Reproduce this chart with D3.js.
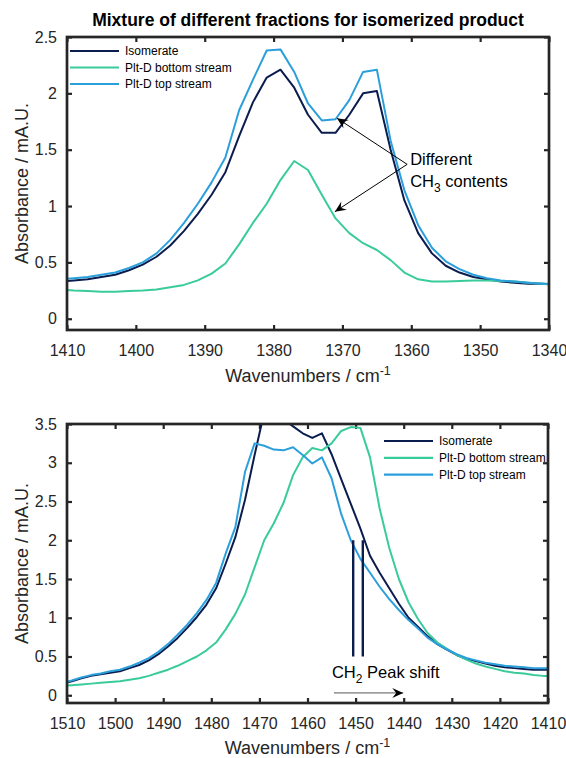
<!DOCTYPE html>
<html><head><meta charset="utf-8">
<script src="https://cdn.jsdelivr.net/npm/d3@7"></script>
<style>body{margin:0;background:#fff}svg{display:block}text{font-family:"Liberation Sans",Arial,sans-serif}</style>
</head><body>
<script>
// ---------- data: top panel (CH3 region) ----------
const topWavenumbers = [1411,1409,1407,1405,1403,1401,1399,1397,1395,1393,1391,1389,1387,1385,1383,1381,1379,1377,1375,1373,1371,1369,1367,1365,1363,1361,1359,1357,1355,1353,1351,1349,1347,1345,1343,1341,1339];
const topIsomerate = [0.33,0.34,0.35,0.37,0.39,0.43,0.48,0.55,0.65,0.78,0.93,1.10,1.30,1.62,1.92,2.14,2.21,2.05,1.81,1.65,1.65,1.81,2.00,2.02,1.50,1.05,0.76,0.58,0.47,0.41,0.37,0.35,0.33,0.32,0.31,0.31,0.30];
const topBottomStream = [0.26,0.25,0.245,0.24,0.24,0.245,0.25,0.26,0.28,0.30,0.34,0.40,0.49,0.66,0.85,1.02,1.23,1.40,1.32,1.10,0.89,0.76,0.67,0.61,0.52,0.41,0.35,0.33,0.33,0.335,0.34,0.34,0.335,0.33,0.32,0.31,0.30];
const topTopStream = [0.35,0.36,0.37,0.39,0.41,0.45,0.50,0.58,0.70,0.85,1.02,1.21,1.43,1.85,2.12,2.38,2.39,2.19,1.91,1.76,1.77,1.94,2.19,2.21,1.58,1.14,0.83,0.63,0.51,0.44,0.39,0.36,0.34,0.33,0.32,0.31,0.31];
const topXTicks = [1410,1400,1390,1380,1370,1360,1350,1340];
const topYTicks = [0,0.5,1,1.5,2,2.5];

// ---------- data: bottom panel (CH2 region) ----------
const botWavenumbers = [1511,1509,1507,1505,1503,1501,1499,1497,1495,1493,1491,1489,1487,1485,1483,1481,1479,1477,1475,1473,1471,1469,1467,1465,1463,1461,1459,1457,1455,1453,1451,1449,1447,1445,1443,1441,1439,1437,1435,1433,1431,1429,1427,1425,1423,1421,1419,1417,1415,1413,1411,1409];
const botIsomerate = [0.15,0.18,0.22,0.25,0.27,0.29,0.31,0.35,0.39,0.45,0.53,0.63,0.74,0.87,1.01,1.17,1.38,1.70,2.04,2.52,3.10,3.65,3.68,3.56,3.47,3.38,3.32,3.38,3.11,2.79,2.47,2.15,1.80,1.58,1.38,1.18,1.00,0.88,0.76,0.66,0.59,0.52,0.47,0.44,0.41,0.38,0.36,0.35,0.34,0.33,0.33,0.33];
const botBottomStream = [0.12,0.13,0.14,0.15,0.16,0.17,0.18,0.20,0.22,0.25,0.29,0.33,0.38,0.44,0.50,0.58,0.68,0.85,1.05,1.30,1.65,2.00,2.22,2.48,2.84,3.07,3.19,3.16,3.25,3.41,3.46,3.45,3.07,2.41,1.90,1.50,1.20,0.98,0.80,0.68,0.60,0.52,0.46,0.41,0.37,0.34,0.31,0.29,0.28,0.26,0.25,0.25];
const botTopStream = [0.16,0.19,0.23,0.26,0.28,0.31,0.33,0.37,0.42,0.48,0.56,0.66,0.78,0.91,1.06,1.23,1.45,1.83,2.17,2.88,3.25,3.22,3.17,3.16,3.20,3.10,2.99,3.07,2.80,2.34,2.00,1.76,1.58,1.40,1.24,1.10,0.97,0.86,0.74,0.66,0.59,0.53,0.48,0.45,0.42,0.40,0.38,0.37,0.36,0.35,0.35,0.35];
const botXTicks = [1510,1500,1490,1480,1470,1460,1450,1440,1430,1420,1410];
const botYTicks = [0,0.5,1,1.5,2,2.5,3,3.5];

const seriesNames = ["Isomerate","Plt-D bottom stream","Plt-D top stream"];
const seriesColors = ["#0b1c4e","#3acb9c","#2b9fdc"];

// annotations (data coordinates)
const ch3Tail = [1360.6, 1.37];
const ch3Tips = [[1370.8, 1.78],[1371.1, 0.95]];
const ch2Markers = [1450.5, 1448.5];
const ch2MarkerRange = [0.5, 2.0];
const ch2Arrow = [[1454.5, 0.03],[1440.1, 0.03]];

const W = 566, H = 758;
const svg = d3.select("body").append("svg").attr("width", W).attr("height", H);
const axisColor = "#262626";

function panel(opts){
  const {left,right,top,bottom,xDomain,yDomain,xTicks,yTicks,id} = opts;
  const x = d3.scaleLinear().domain(xDomain).range([left,right]);
  const y = d3.scaleLinear().domain(yDomain).range([bottom,top]);
  const g = svg.append("g");
  g.append("clipPath").attr("id",id).append("rect")
    .attr("x",left).attr("y",top).attr("width",right-left).attr("height",bottom-top);
  const fmt = d => String(+d.toFixed(2));
  const ax = (gen, tr, labels) => {
    const a = g.append("g").attr("transform",tr).call(gen);
    a.select(".domain").remove();
    a.selectAll("line").attr("stroke",axisColor).attr("stroke-width",2.2);
    a.selectAll("text").attr("fill",axisColor).style("font-size","16px");
    if(!labels) a.selectAll("text").remove();
    return a;
  };
  ax(d3.axisBottom(x).tickValues(xTicks).tickSizeInner(-5).tickSizeOuter(0).tickPadding(15).tickFormat(fmt), `translate(0,${bottom})`, true);
  ax(d3.axisTop(x).tickValues(xTicks).tickSizeInner(-5).tickSizeOuter(0), `translate(0,${top})`, false);
  ax(d3.axisLeft(y).tickValues(yTicks).tickSizeInner(-5).tickSizeOuter(0).tickPadding(10).tickFormat(fmt), `translate(${left},0)`, true);
  ax(d3.axisRight(y).tickValues(yTicks).tickSizeInner(-5).tickSizeOuter(0), `translate(${right},0)`, false);
  return {x,y,g,left,right,top,bottom,id};
}

function drawSeries(p, xs, list){
  const lines = p.g.append("g").attr("clip-path",`url(#${p.id})`);
  list.forEach((vals,i)=>{
    const line = d3.line().x((d,j)=>p.x(xs[j])).y(d=>p.y(d));
    lines.append("path").datum(vals).attr("d",line)
      .attr("fill","none").attr("stroke",seriesColors[i]).attr("stroke-width",2)
      .attr("stroke-linejoin","round");
  });
}

function frame(p){
  p.g.append("rect").attr("x",p.left).attr("y",p.top)
    .attr("width",p.right-p.left).attr("height",p.bottom-p.top)
    .attr("fill","none").attr("stroke",axisColor).attr("stroke-width",2.7);
}

function legend(p, lx, ly, dy){
  const lg = p.g.append("g");
  seriesNames.forEach((n,i)=>{
    lg.append("line").attr("x1",lx).attr("x2",lx+49).attr("y1",ly+i*dy).attr("y2",ly+i*dy)
      .attr("stroke",seriesColors[i]).attr("stroke-width",2.2);
    lg.append("text").attr("x",lx+55).attr("y",ly+i*dy).attr("dy","0.35em")
      .style("font-size","12px").attr("fill","#000").text(n);
  });
}

function arrow(g, x1,y1,x2,y2, color, headColor, width){
  g.append("line").attr("x1",x1).attr("y1",y1).attr("x2",x2).attr("y2",y2)
    .attr("stroke",color).attr("stroke-width",width);
  const ang = Math.atan2(y2-y1,x2-x1);
  const L=11, Wd=5, N=7;
  const pt=(d,s)=>[x2 - d*Math.cos(ang) - s*Math.sin(ang), y2 - d*Math.sin(ang) + s*Math.cos(ang)];
  const pts=[[x2,y2],pt(L,Wd),pt(N,0),pt(L,-Wd)];
  g.append("path").attr("d","M"+pts.map(q=>q.join(",")).join("L")+"Z").attr("fill",headColor);
}

function ylabel(p){
  p.g.append("text").attr("transform",`translate(22,${(p.top+p.bottom)/2}) rotate(-90)`)
    .attr("text-anchor","middle").attr("dy","0.35em").style("font-size","18px").attr("fill",axisColor)
    .text("Absorbance / mA.U.");
}
function xlabel(p, yy){
  const t = p.g.append("text").attr("x",(p.left+p.right)/2).attr("y",yy)
    .attr("text-anchor","middle").style("font-size","18px").attr("fill",axisColor);
  t.append("tspan").text("Wavenumbers / cm");
  t.append("tspan").attr("dy","-7").style("font-size","12.5px").text("-1");
}

// ---------- top panel ----------
const pt = panel({left:67,right:549,top:37,bottom:330,xDomain:[1410,1340],yDomain:[-0.1,2.5],xTicks:topXTicks,yTicks:topYTicks,id:"clipTop"});
drawSeries(pt, topWavenumbers, [topIsomerate, topBottomStream, topTopStream]);
frame(pt);
legend(pt, 70, 51, 16.5);
ylabel(pt);
xlabel(pt, 382);
svg.append("text").attr("x",(pt.left+pt.right)/2).attr("y",26).attr("text-anchor","middle")
  .style("font-size","17.5px").style("font-weight","bold").attr("fill","#000")
  .text("Mixture of different fractions for isomerized product");
// CH3 annotation
ch3Tips.forEach(t=>arrow(pt.g, pt.x(ch3Tail[0]), pt.y(ch3Tail[1]), pt.x(t[0]), pt.y(t[1]), "#000", "#000", 1));
const ann = pt.g.append("text").style("font-size","16.5px").attr("fill","#000");
ann.append("tspan").attr("x",pt.x(ch3Tail[0])+3).attr("y",pt.y(ch3Tail[1])+1).text("Different");
const l2 = pt.g.append("text").style("font-size","16.5px").attr("fill","#000")
  .attr("x",pt.x(ch3Tail[0])+3).attr("y",pt.y(ch3Tail[1])+23);
l2.append("tspan").text("CH");
l2.append("tspan").attr("dy",5).style("font-size","12px").text("3");
l2.append("tspan").attr("dy",-5).text(" contents");

// ---------- bottom panel ----------
const pb = panel({left:67,right:548,top:424,bottom:703,xDomain:[1510,1410],yDomain:[-0.1,3.5],xTicks:botXTicks,yTicks:botYTicks,id:"clipBot"});
drawSeries(pb, botWavenumbers, [botIsomerate, botBottomStream, botTopStream]);
frame(pb);
legend(pb, 384, 441, 16.8);
ylabel(pb);
xlabel(pb, 754);
ch2Markers.forEach(w=>{
  pb.g.append("line").attr("x1",pb.x(w)).attr("x2",pb.x(w))
    .attr("y1",pb.y(ch2MarkerRange[0])).attr("y2",pb.y(ch2MarkerRange[1]))
    .attr("stroke",seriesColors[0]).attr("stroke-width",2.4);
});
arrow(pb.g, pb.x(ch2Arrow[0][0]), pb.y(ch2Arrow[0][1]), pb.x(ch2Arrow[1][0]), pb.y(ch2Arrow[1][1]), "#555", "#000", 1);
const t2 = pb.g.append("text").style("font-size","16.5px").attr("fill","#000")
  .attr("x",pb.x(ch2Arrow[0][0])-2).attr("y",pb.y(0.22));
t2.append("tspan").text("CH");
t2.append("tspan").attr("dy",5).style("font-size","12px").text("2");
t2.append("tspan").attr("dy",-5).text(" Peak shift");
</script>
</body></html>
